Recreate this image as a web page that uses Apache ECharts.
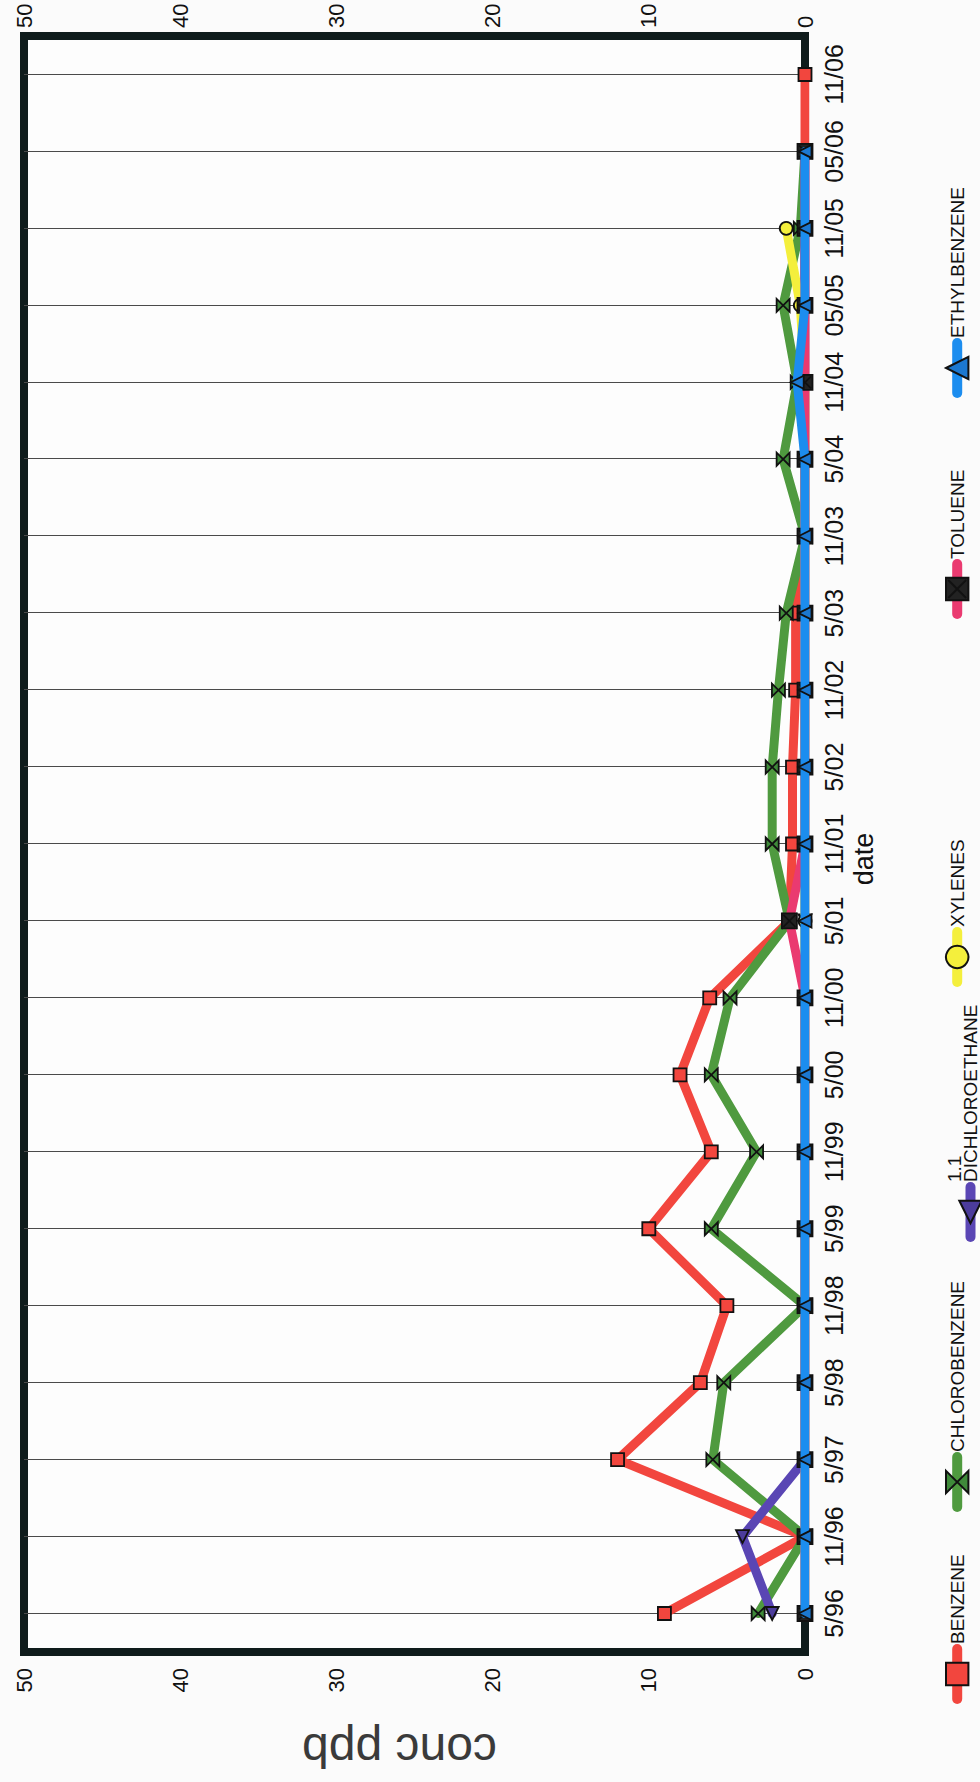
<!DOCTYPE html>
<html>
<head>
<meta charset="utf-8">
<script src="https://cdn.jsdelivr.net/npm/echarts@6/dist/echarts.min.js"></script>
<style>
  html, body { margin: 0; padding: 0; background: #fbfbfb; width: 980px; height: 1782px; overflow: hidden; }
  /* the chart is laid out landscape and turned a quarter-turn onto the portrait page */
  #chart {
    position: absolute; left: 0; top: 0;
    width: 1782px; height: 980px;
    transform-origin: 0 0;
    transform: translate(0, 1782px) rotate(-90deg);
  }
</style>
</head>
<body>
<div id="chart"></div>
<script>
// sampling dates
const categories = ['5/96', '11/96', '5/97', '5/98', '11/98', '5/99', '11/99', '5/00', '11/00', '5/01',
                    '11/01', '5/02', '11/02', '5/03', '11/03', '5/04', '11/04', '05/05', '11/05', '05/06', '11/06'];

// concentrations, ppb
const benzene        = [9, 0, 12, 6.7, 5, 10, 6, 8, 6.1, 1, 0.8, 0.8, 0.6, 0.6, 0, 0, 0, 0, 0, 0, 0];
const chlorobenzene  = [3, 0, 5.9, 5.2, 0, 6, 3.1, 6, 4.8, 1, 2.1, 2.1, 1.7, 1.2, 0, 1.4, 0.5, 1.4, 0.3, 0, null];
const dichloroethane = [2.1, 4, 0, 0, 0, 0, 0, 0, 0, 0, 0, 0, 0, 0, 0, 0, 0, 0, 0, 0, null];
const xylenes        = [0, 0, 0, 0, 0, 0, 0, 0, 0, 0, 0, 0, 0, 0, 0, 0, 0, 0.3, 1.2, null, null];
const toluene        = [0, 0, 0, 0, 0, 0, 0, 0, 0, 1, 0, 0, 0, 0, 0, 0, 0, 0, 0, 0, null];
const ethylbenzene   = [0, 0, 0, 0, 0, 0, 0, 0, 0, 0, 0, 0, 0, 0, 0, 0, 0.5, 0, 0, 0, null];

// value axis
const valueMin = 0, valueMax = 50, valueStep = 10;

const seriesNames = ['BENZENE', 'CHLOROBENZENE', '1.1\nDICHLOROETHANE', 'XYLENES', 'TOLUENE', 'ETHYLBENZENE'];
const seriesData  = [benzene, chlorobenzene, dichloroethane, xylenes, toluene, ethylbenzene];
const lineColors  = ['#f2463e', '#4f9a3f', '#5a46b4', '#f4ef3c', '#ea3a70', '#1c8def'];
const markColors  = ['#f2463e', '#3f8a3a', '#4c3c9c', '#f4ef3c', '#222222', '#1c78d0'];
const symbols = [
  'rect',
  'path://M0,0 L10,0 L0,10 L10,10 Z',                                   // hourglass
  'triangle',
  'circle',
  'path://M0,0 L10,0 L10,10 L0,10 Z M1,1 L9,9 M9,1 L1,9',               // boxed cross
  'triangle'
];
const symbolRot = [0, 0, 90, 0, 0, 0];
// centre of each legend key along the bottom edge
const legendKeyCentre = [103, 295, 565, 820, 1188, 1409];

const FONT = '"Liberation Sans", Arial, sans-serif';
const NARROW = '"Liberation Sans Narrow", "Arial Narrow", "Liberation Sans", Arial, sans-serif';
const KEY_W = 50, KEY_H = 28;

const chart = echarts.init(document.getElementById('chart'), null, { renderer: 'svg', width: 1782, height: 980 });

const series = seriesData.map((d, i) => ({
  name: seriesNames[i],
  type: 'line',
  data: d,
  symbol: symbols[i],
  symbolRotate: symbolRot[i],
  symbolSize: i === 4 ? 15 : 13,
  showAllSymbol: true,
  connectNulls: false,
  lineStyle: { color: lineColors[i], width: 9, cap: 'round', join: 'round' },
  itemStyle: { color: markColors[i], borderColor: '#111', borderWidth: 1.8 },
  emphasis: { disabled: true },
  z: 2 + i
}));

const legends = seriesNames.map((n, i) => ({
  data: [n],
  left: legendKeyCentre[i] - KEY_W / 2,
  top: 959 - KEY_H / 2,
  itemWidth: KEY_W,
  itemHeight: KEY_H,
  itemGap: 0,
  padding: 0,
  selectedMode: false,
  // a two-line name gets an empty third line so its last line sits level with the key
  formatter: name => (name.indexOf('\n') >= 0 ? name + '\n ' : name),
  lineStyle: { width: 10, cap: 'round', color: lineColors[i] },
  textStyle: { fontFamily: FONT, fontSize: 19, color: '#111', lineHeight: 16 }
}));

chart.setOption({
  animation: false,
  backgroundColor: '#fbfbfb',
  grid: {
    left: 103, right: 36, top: 24, bottom: 175,
    show: true, backgroundColor: '#fdfdfd', borderColor: '#0f1c1c', borderWidth: 8
  },
  legend: legends,
  xAxis: {
    type: 'category',
    data: categories,
    boundaryGap: true,
    name: 'date',
    nameLocation: 'middle',
    nameGap: 44,
    nameTextStyle: { fontFamily: FONT, fontSize: 27, color: '#111', padding: [0, 30, 0, 0] },
    axisLine: { show: false },
    axisTick: { show: false },
    axisLabel: { fontFamily: NARROW, fontSize: 25, color: '#111', margin: 16, interval: 0 },
    splitLine: { show: true, alignWithLabel: true, interval: 0, lineStyle: { color: '#4a4a4a', width: 1 } }
  },
  yAxis: [
    {
      type: 'value', min: valueMin, max: valueMax, interval: valueStep, position: 'left',
      name: 'conc ppb', nameLocation: 'middle', nameGap: 74, nameRotate: 90,
      nameTextStyle: { fontFamily: FONT, fontSize: 48, color: '#3a3a3a', padding: [0, 0, 0, 30] },
      axisLine: { show: false }, axisTick: { show: false }, splitLine: { show: false },
      axisLabel: { fontFamily: FONT, fontSize: 22, color: '#111', margin: 16 }
    },
    {
      type: 'value', min: valueMin, max: valueMax, interval: valueStep, position: 'right',
      axisLine: { show: false }, axisTick: { show: false }, splitLine: { show: false },
      axisLabel: { fontFamily: FONT, fontSize: 22, color: '#111', margin: 8 }
    }
  ],
  series: series
});
</script>
</body>
</html>
